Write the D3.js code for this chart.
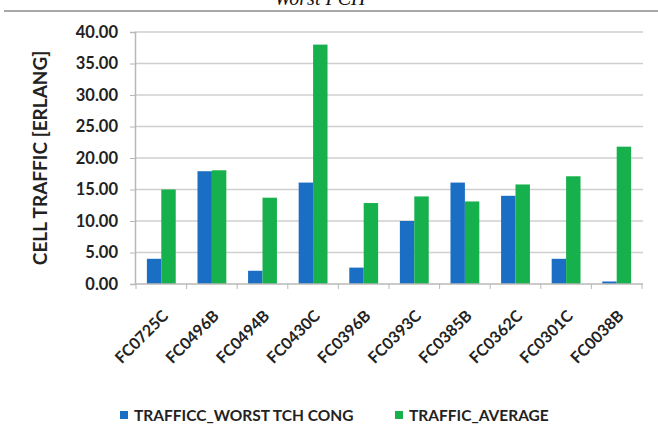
<!DOCTYPE html>
<html><head><meta charset="utf-8">
<script src="https://cdn.jsdelivr.net/npm/d3@7"></script>
<style>body{margin:0;background:#fff}svg{display:block}</style>
</head><body>
<svg id="c" width="658" height="437"></svg>
<script>
const categories = ["FC0725C","FC0496B","FC0494B","FC0430C","FC0396B","FC0393C","FC0385B","FC0362C","FC0301C","FC0038B"];
const worstCong = [4.0, 17.9, 2.1, 16.1, 2.6, 10.0, 16.1, 14.0, 4.0, 0.4];
const average = [15.0, 18.05, 13.7, 38.0, 12.85, 13.9, 13.1, 15.8, 17.1, 21.8];
const yTicks = [0,5,10,15,20,25,30,35,40];
const seriesNames = ["TRAFFICC_WORST TCH CONG","TRAFFIC_AVERAGE"];
const colors = ["#1a6fc4","#16b04c"];

const svg = d3.select("#c");
const pL = 135, pR = 643, pT = 32, pB = 284;
const font = "Lato, 'Open Sans', sans-serif";

// title (cropped at the top, as in the source image)
svg.append("text").attr("x", 320).attr("y", 5).attr("text-anchor","middle")
  .attr("font-family","'Liberation Serif', 'DejaVu Serif', serif").attr("font-style","italic")
  .attr("font-size", 20).attr("fill","#111").text("Worst PCH");
svg.append("line").attr("x1",4).attr("x2",658).attr("y1",11).attr("y2",11)
  .attr("stroke","#a8a8a8").attr("stroke-width",2);

const x = d3.scaleBand().domain(categories).range([pL+1, pR-1]).paddingInner(0.43).paddingOuter(0.215);
const xs = d3.scaleBand().domain([0,1]).range([0, x.bandwidth()]);
const y = d3.scaleLinear().domain([0,40]).range([pB, pT]);

// gridlines
svg.append("g").selectAll("line").data(yTicks.filter(d=>d>0)).join("line")
  .attr("x1", pL).attr("x2", pR).attr("y1", d=>y(d)).attr("y2", d=>y(d))
  .attr("stroke","#cfcfcf").attr("stroke-width",1.5);

// y axis
const yAxis = svg.append("g").attr("transform",`translate(${pL},0)`)
  .call(d3.axisLeft(y).tickValues(yTicks).tickFormat(d3.format(".2f")).tickSize(5).tickPadding(12));
yAxis.select(".domain").attr("stroke","#b8b8b8").attr("stroke-width",1.5);
yAxis.selectAll(".tick line").attr("stroke","#b8b8b8");
yAxis.selectAll("text").attr("font-family",font).attr("font-weight","bold").attr("font-size",16.5).attr("fill","#222");

// bars
const data = categories.map((c,i)=>({c, v:[worstCong[i], average[i]]}));
const g = svg.append("g").selectAll("g").data(data).join("g").attr("transform", d=>`translate(${x(d.c)},0)`);
g.selectAll("rect").data(d=>d.v.map((v,k)=>({v,k}))).join("rect")
  .attr("x", d=>xs(d.k)).attr("width", xs.bandwidth())
  .attr("y", d=>y(d.v)).attr("height", d=>y(0)-y(d.v))
  .attr("fill", d=>colors[d.k]);

// x axis
const bounds = d3.range(categories.length+1).map(i=>pL+1+ i*(pR-pL-2)/categories.length);
svg.append("line").attr("x1",pL).attr("x2",pR).attr("y1",pB).attr("y2",pB)
  .attr("stroke","#b8b8b8").attr("stroke-width",1.5);
svg.append("g").selectAll("line").data(bounds).join("line")
  .attr("x1",d=>d).attr("x2",d=>d).attr("y1",pB).attr("y2",pB+5)
  .attr("stroke","#b8b8b8");
svg.append("g").selectAll("text").data(categories).join("text")
  .attr("transform", d=>`translate(${x(d)+x.bandwidth()/2+8},${pB+33}) rotate(-45)`)
  .attr("text-anchor","end").attr("font-family",font).attr("font-weight","bold")
  .attr("font-size",16).attr("fill","#222").text(d=>d);

// y label
svg.append("text").attr("transform","translate(47,158) rotate(-90)").attr("text-anchor","middle")
  .attr("font-family",font).attr("font-weight","bold").attr("font-size",19).attr("fill","#222")
  .text("CELL TRAFFIC [ERLANG]");

// legend
const lx = [120, 395];
const lg = svg.append("g").selectAll("g").data(seriesNames).join("g")
  .attr("transform",(d,i)=>`translate(${lx[i]},411)`);
lg.append("rect").attr("width",8).attr("height",8).attr("fill",(d,i)=>colors[i]);
lg.append("text").attr("x",14).attr("y",9.5).attr("font-family",font).attr("font-weight","bold")
  .attr("font-size",15.5).attr("fill","#222").text(d=>d);
</script>
</body></html>
